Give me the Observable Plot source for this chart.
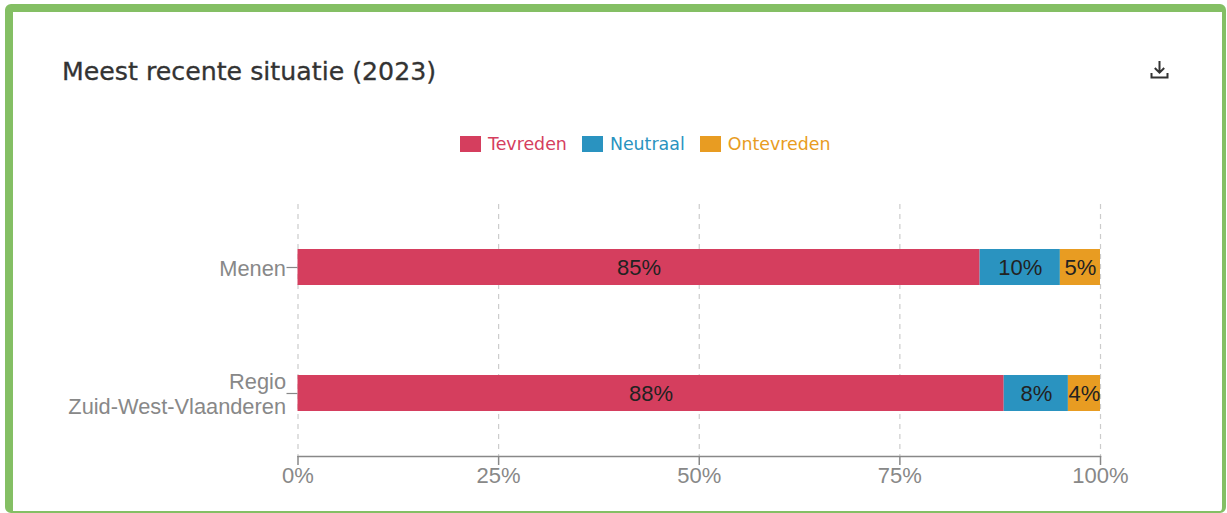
<!DOCTYPE html>
<html lang="nl">
<head>
<meta charset="utf-8">
<title>Meest recente situatie (2023)</title>
<script src="https://cdn.jsdelivr.net/npm/d3@7"></script>
<script src="https://cdn.jsdelivr.net/npm/@observablehq/plot@0.6"></script>
<style>
  html, body { margin: 0; padding: 0; background: #fff; width: 1227px; height: 513px; overflow: hidden; }
  #card { position: absolute; left: 5px; top: 4px; width: 1209px; height: 499px; background: #fff;
          border: 8px solid #84BF64; border-bottom-width: 2px; border-right-width: 4px; border-radius: 6px; }
  #title { position: absolute; left: 62px; top: 57px; font: 500 25.25px/30px "DejaVu Sans", sans-serif; color: #333;
           white-space: nowrap; -webkit-text-stroke: 0.3px #333; }
  #legend { position: absolute; left: 460px; top: 132px; height: 24px; display: flex; align-items: center;
            font: 17.4px/24px "DejaVu Sans", sans-serif; white-space: nowrap; }
  #legend .item { display: flex; align-items: center; margin-right: 15px; }
  #legend .swatch { width: 21px; height: 16px; margin-right: 7px; }
  #icon { position: absolute; left: 1149px; top: 59px; }
  #chart { position: absolute; left: 14px; top: 190px; }
  #chart svg { display: block; }
</style>
</head>
<body>
<div id="card"></div>
<div id="title">Meest recente situatie (2023)</div>
<svg id="icon" width="22" height="22" viewBox="0 0 22 22" fill="none" stroke="#333" stroke-width="2">
  <path d="M10.5 2 V13.5 M5.8 9 L10.5 13.7 L15.2 9"/>
  <path d="M2.5 14 V18.5 H18.5 V14"/>
</svg>
<div id="legend"></div>
<div id="chart"></div>
<script>
const regions = ["Menen", "Regio\nZuid-West-Vlaanderen"];
const categories = ["Tevreden", "Neutraal", "Ontevreden"];
const colors = ["#D53E5E", "#2A93C0", "#E89C22"];
const tevreden = [85, 88];
const neutraal = [10, 8];
const ontevreden = [5, 4];
const xTicks = [0, 25, 50, 75, 100];

const series = [tevreden, neutraal, ontevreden];
const rows = categories.flatMap((c, i) =>
  regions.map((r, j) => ({region: r, category: c, value: series[i][j]})));

const stack = {x: "value", y: "region", z: "category", order: categories};

const plot = Plot.plot({
  width: 1209,
  height: 300,
  marginLeft: 283.5,
  marginRight: 123,
  marginTop: 14,
  marginBottom: 34,
  style: {background: "transparent", overflow: "visible"},
  x: {domain: [0, 100]},
  y: {domain: regions, paddingInner: 0.714, paddingOuter: 0.357, label: null},
  color: {domain: categories, range: colors},
  marks: [
    Plot.gridX(xTicks, {stroke: "#ccc", strokeOpacity: 1, strokeWidth: 1.2, strokeDasharray: "5,5"}),
    Plot.barX(rows, Plot.stackX({...stack, fill: "category"})),
    Plot.text(rows, Plot.stackX({...stack, text: d => d.value + "%", fill: "#222",
      fontSize: 22, fontFamily: "Liberation Sans, Arial, sans-serif"})),
    Plot.frame({anchor: "bottom", stroke: "#888", strokeWidth: 1.5}),
    Plot.axisX({ticks: xTicks, tickFormat: d => d + "%", tickSize: 9, tickPadding: 2, stroke: "#888",
      strokeWidth: 1.5, label: null, color: "#888", fontSize: 22,
      fontFamily: "Liberation Sans, Arial, sans-serif"}),
    Plot.axisY({tickSize: 11, tickPadding: 1, stroke: "#888", strokeWidth: 1.2, label: null, color: "#888",
      fontSize: 21.8, lineHeight: 1.15, fontFamily: "Liberation Sans, Arial, sans-serif"})
  ]
});
document.getElementById("chart").append(plot);

const legend = document.getElementById("legend");
categories.forEach((c, i) => {
  const item = document.createElement("div");
  item.className = "item";
  item.style.color = colors[i];
  const s = document.createElement("span");
  s.className = "swatch";
  s.style.background = colors[i];
  item.append(s, c);
  legend.append(item);
});
</script>
</body>
</html>
